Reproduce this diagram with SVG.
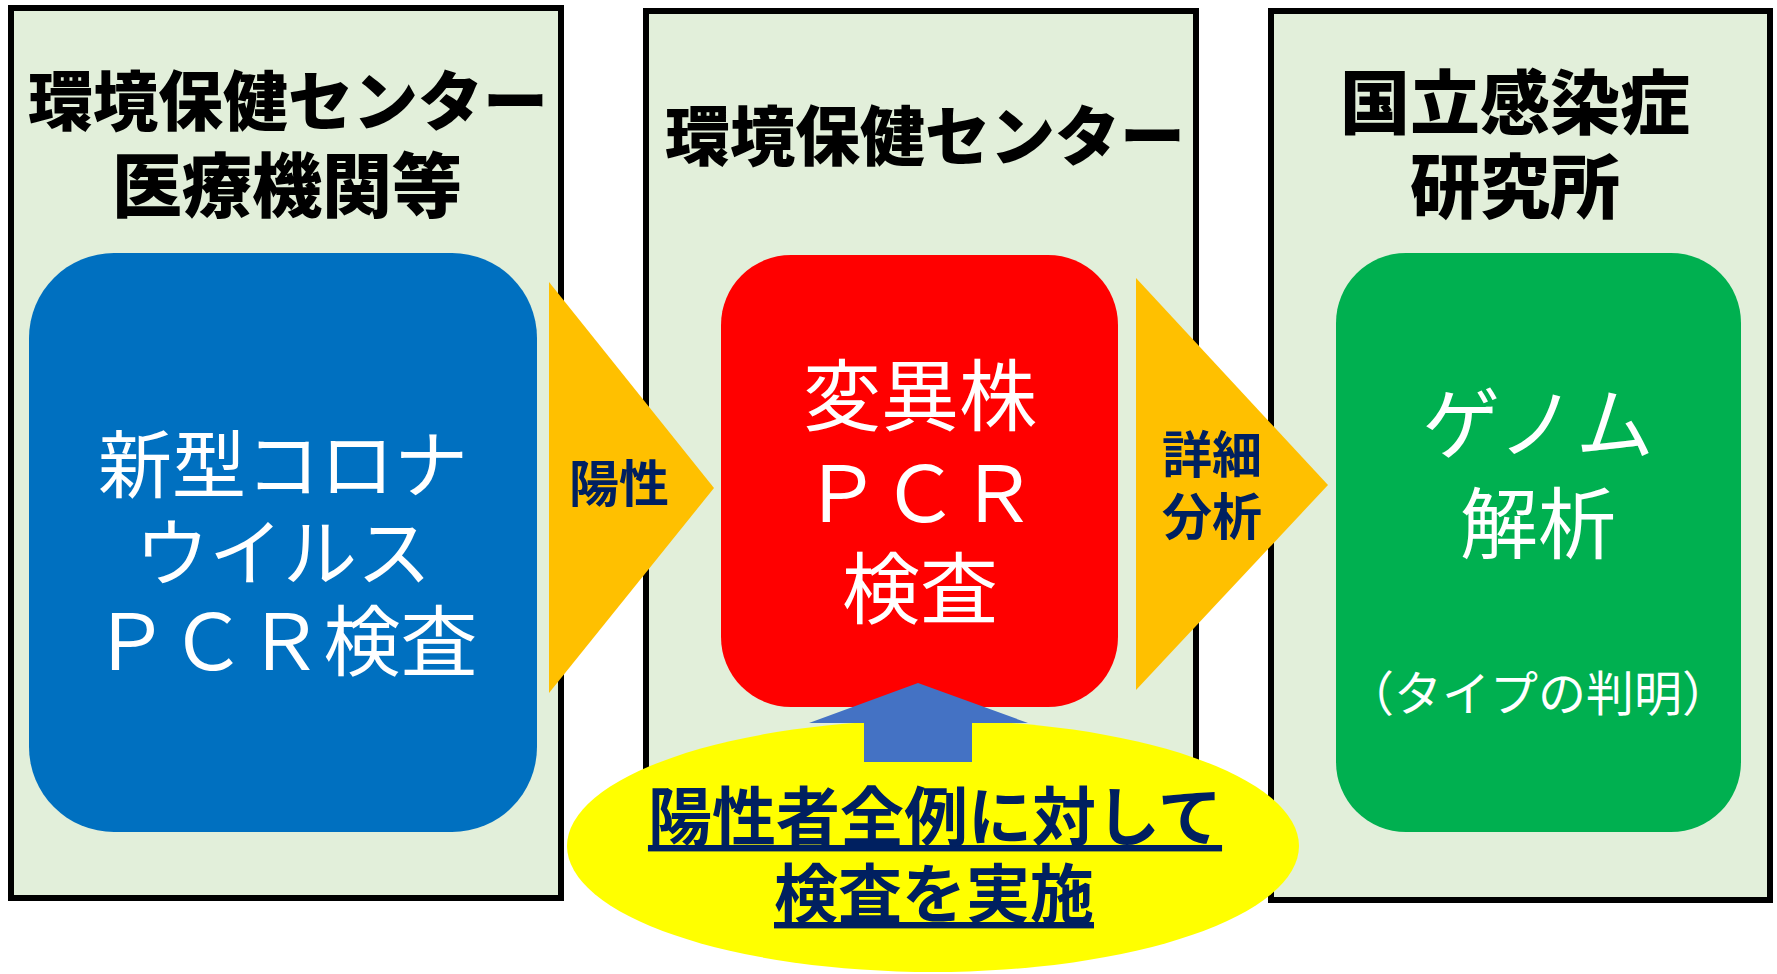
<svg xmlns="http://www.w3.org/2000/svg" width="1777" height="974" viewBox="0 0 1777 974">
<style>
.panel{fill:#E2EFDA;stroke:#000;stroke-width:6}
.title{font-family:"Noto Sans CJK JP",sans-serif;font-weight:900;fill:#000;text-anchor:middle;dominant-baseline:central}
.boxtxt{font-family:"Noto Sans CJK JP",sans-serif;font-weight:400;fill:#fff;text-anchor:middle;dominant-baseline:central}
.lbl{font-family:"Noto Sans CJK JP",sans-serif;font-weight:700;fill:#002060;text-anchor:middle;dominant-baseline:central}
.flow{fill:#FFC000}
</style>
<rect width="1777" height="974" fill="#fff"/>
<g id="panel-local">
<rect class="panel" x="11" y="8" width="550" height="890"/>
<text class="title" x="288" y="97" font-size="65">環境保健センター</text>
<text class="title" x="287" y="181" font-size="70">医療機関等</text>
</g>
<g id="panel-center">
<rect class="panel" x="646" y="11" width="550" height="890"/>
<text class="title" x="925" y="132" font-size="65">環境保健センター</text>
</g>
<g id="panel-niid">
<rect class="panel" x="1271" y="11" width="499" height="889"/>
<text class="title" x="1515" y="98" font-size="70">国立感染症</text>
<text class="title" x="1515" y="182" font-size="70">研究所</text>
</g>
<g id="node-pcr">
<rect x="29" y="253" width="508" height="579" rx="85" ry="85" fill="#0070C0"/>
<text class="boxtxt" x="283" y="459" font-size="74">新型コロナ</text>
<text class="boxtxt" x="283" y="547" font-size="74">ウイルス</text>
<text class="boxtxt" x="285" y="636" font-size="77">ＰＣＲ検査</text>
</g>
<g id="node-variant">
<rect x="721" y="255" width="397" height="452" rx="70" ry="70" fill="#FF0000"/>
<text class="boxtxt" x="920" y="391" font-size="78">変異株</text>
<text class="boxtxt" x="920" y="488" font-size="78">ＰＣＲ</text>
<text class="boxtxt" x="920" y="584" font-size="78">検査</text>
</g>
<g id="node-genome">
<rect x="1336" y="253" width="405" height="579" rx="70" ry="70" fill="#00B050"/>
<text class="boxtxt" x="1538" y="419" font-size="78">ゲノム</text>
<text class="boxtxt" x="1538" y="519" font-size="78">解析</text>
<text class="boxtxt" x="1538" y="690" font-size="48">（タイプの判明）</text>
</g>
<g id="note">
<ellipse cx="933" cy="846" rx="366" ry="126" fill="#FFFF00"/>
<text class="lbl" x="935" y="812" font-size="64" text-decoration="underline">陽性者全例に対して</text>
<text class="lbl" x="934" y="889" font-size="64" text-decoration="underline">検査を実施</text>
</g>
<g id="connectors">
<polygon class="flow" points="549,282 714,488 549,693"/>
<text class="lbl" x="619" y="480" font-size="50">陽性</text>
<polygon class="flow" points="1136,278 1328,485 1136,690"/>
<text class="lbl" x="1212" y="451" font-size="50">詳細</text>
<text class="lbl" x="1212" y="513" font-size="50">分析</text>
<polygon points="918,683 1028,723 972,723 972,762 864,762 864,723 809,723" fill="#4472C4"/>
</g>
</svg>
